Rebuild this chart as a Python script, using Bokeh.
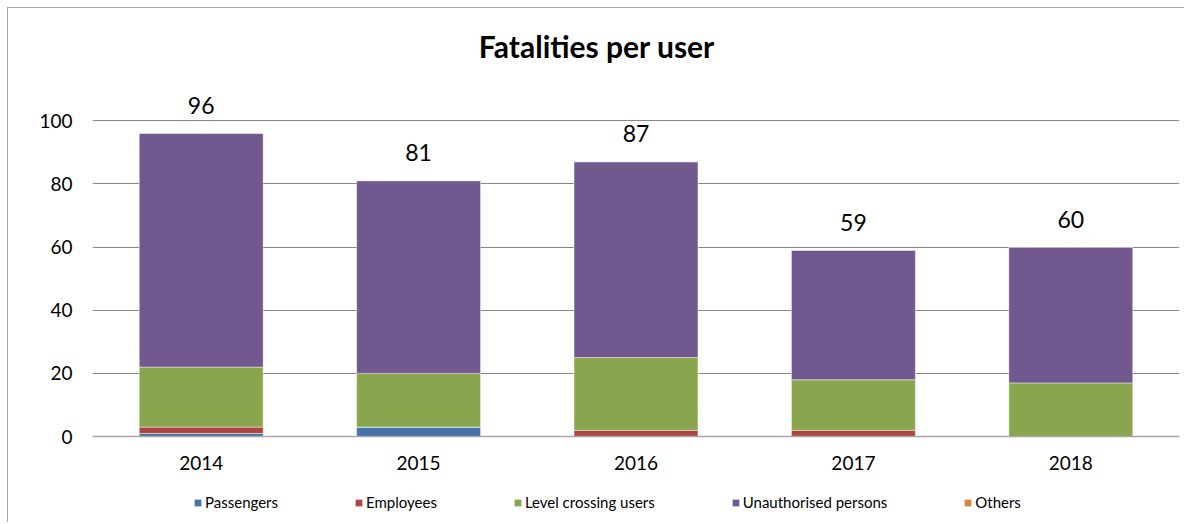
from bokeh.plotting import figure
from bokeh.models import Legend, LegendItem, FixedTicker, Label, ColumnDataSource
from bokeh.core.properties import value
from bokeh.embed import file_html
from bokeh.resources import INLINE

years = ["2014", "2015", "2016", "2017", "2018"]
passengers = [1, 3, 0, 0, 0]
employees = [2, 0, 2, 2, 0]
level_crossing = [19, 17, 23, 16, 17]
unauthorised = [74, 61, 62, 41, 43]
others = [0, 0, 0, 0, 0]
totals = [96, 81, 87, 59, 60]
y_ticks = [0, 20, 40, 60, 80, 100]

series = ["Passengers", "Employees", "Level crossing users", "Unauthorised persons", "Others"]
keys = ["passengers", "employees", "level_crossing", "unauthorised", "others"]
colors = ["#4572A7", "#AA4643", "#89A54E", "#71588F", "#DB843D"]

FONT = "Lato"

source = ColumnDataSource(dict(
    years=years, passengers=passengers, employees=employees,
    level_crossing=level_crossing, unauthorised=unauthorised,
    others=others, totals=totals,
))

p = figure(x_range=years, y_range=(-27.5, 130.1), width=1177, height=515,
           output_backend="svg", toolbar_location=None,
           min_border_left=84, min_border_right=6, min_border_top=17, min_border_bottom=0)
p.styles = {"margin-left": "7px", "margin-top": "7px",
            "border-left": "1px solid #a6a6a6", "border-top": "1px solid #a6a6a6"}
p.outline_line_color = None
p.background_fill_color = "white"
p.border_fill_color = "white"

renderers = p.vbar_stack(keys, x="years", width=0.57, source=source, color=colors,
                         line_color="white", line_alpha=0.45, line_width=1)

p.text(x="years", y="totals", text="totals", source=source,
       text_align="center", text_baseline="alphabetic", y_offset=-28,
       text_font=value(FONT), text_font_size="23px", text_color="black")

p.xgrid.grid_line_color = None
p.ygrid.ticker = FixedTicker(ticks=y_ticks)
p.ygrid.grid_line_color = "#878787"
p.ygrid.grid_line_width = 1

p.yaxis.ticker = FixedTicker(ticks=y_ticks)
p.yaxis.axis_line_color = None
p.yaxis.major_tick_line_color = None
p.yaxis.minor_tick_line_color = None
p.yaxis.major_label_standoff = 14
p.yaxis.major_label_text_font = FONT
p.yaxis.major_label_text_font_size = "19px"
p.yaxis.major_label_text_color = "black"

p.xaxis.fixed_location = 0
p.xaxis.axis_line_color = "#a6a6a6"
p.xaxis.axis_line_width = 1.5
p.xaxis.major_tick_line_color = None
p.xaxis.minor_tick_line_color = None
p.xaxis.major_label_standoff = 13
p.xaxis.major_label_text_font = FONT
p.xaxis.major_label_text_font_size = "19px"
p.xaxis.major_label_text_color = "black"

title = Label(x=2.32, y=123.7, text="Fatalities per user", text_align="center",
              text_baseline="middle", text_font=FONT, text_font_size="30px",
              text_font_style="bold", text_color="black")
p.add_layout(title)

legend = Legend(items=[LegendItem(label=s, renderers=[r]) for s, r in zip(series, renderers)],
                orientation="horizontal", location=(101, 12),
                glyph_width=9, glyph_height=9, label_standoff=3, spacing=76,
                padding=0, margin=0, border_line_color=None, background_fill_alpha=0,
                label_text_font=FONT, label_text_font_size="15px", label_text_color="black",
                label_height=18)
p.add_layout(legend, "center")

open("out.html", "w").write(file_html(p, INLINE))
